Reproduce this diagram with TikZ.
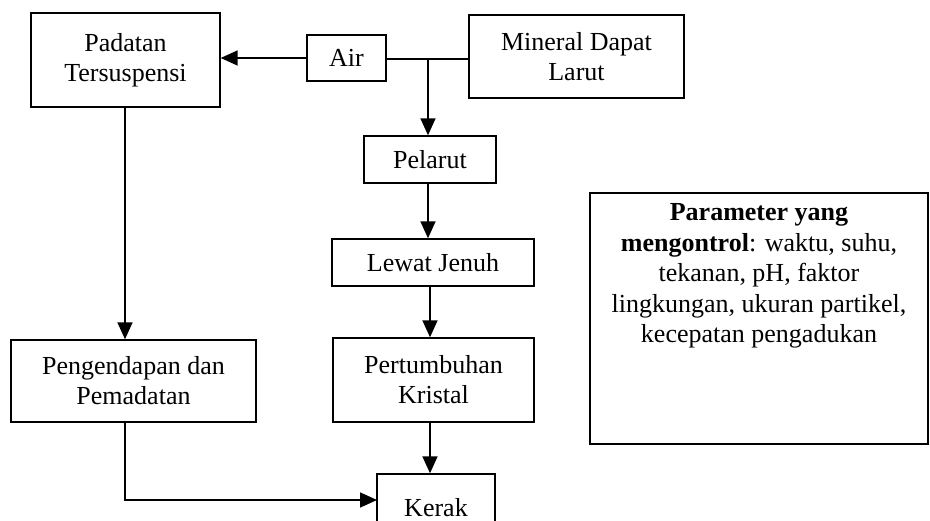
\documentclass[tikz,border=0pt]{standalone}
\usepackage{fontspec}
\setmainfont{Liberation Serif}
\usetikzlibrary{arrows.meta}

\tikzset{
    kotak/.style={draw, line width=1.4pt, align=center, inner sep=0pt},
    panah/.style={line width=1.6pt, -{Triangle[length=17pt,width=15pt]}},
    garis/.style={line width=1.6pt},
}

\begin{document}
\begin{tikzpicture}[x=1pt, y=-1pt, font=\fontsize{26}{30}\selectfont]
        % --- 1. Frame ---
        \useasboundingbox (0,0) rectangle (930,521);

        % --- 2. Top row ---
        \node[kotak, minimum width=189pt, minimum height=94pt] (pad) at (125.5,60) {Padatan\\Tersuspensi};
        \node[kotak, minimum width=79pt, minimum height=46pt] (air) at (346.5,58) {Air};
        \node[kotak, minimum width=215pt, minimum height=83pt] (mineral) at (576.5,56.5) {Mineral Dapat\\Larut};

        % --- 3. Middle column ---
        \node[kotak, minimum width=132pt, minimum height=47pt] (pelarut) at (430,159.5) {Pelarut};
        \node[kotak, minimum width=202pt, minimum height=47pt] (lewat) at (433,262.5) {Lewat Jenuh};
        \node[kotak, minimum width=201pt, minimum height=84pt] (tumbuh) at (433.5,380) {Pertumbuhan\\Kristal};
        \node[kotak, minimum width=118pt, minimum height=68pt] (kerak) at (436,508) {Kerak};

        % --- 4. Left column ---
        \node[kotak, minimum width=245pt, minimum height=82pt] (endap) at (133.5,381) {Pengendapan dan\\Pemadatan};

        % --- 5. Parameter box ---
        \node[kotak, minimum width=338pt, minimum height=251pt] (param) at (759,318.5) {};
        \node[anchor=north, align=center, inner sep=3pt, yshift=-8pt, font=\fontsize{26}{30.5}\selectfont] (paramteks) at (param.north)
            {\textbf{Parameter yang}\\\textbf{mengontrol}: waktu, suhu,\\tekanan, pH, faktor\\lingkungan, ukuran partikel,\\kecepatan pengadukan};

        % --- 6. Connectors ---
        \coordinate (cabang) at (428,59);
        \draw[panah] (air.west) -- (air.west -| pad.east);
        \draw[garis] (air.east |- cabang) -- (cabang -| mineral.west);
        \draw[panah] (cabang) -- (cabang |- pelarut.north);
        \draw[panah] (pelarut.south -| cabang) -- (cabang |- lewat.north);
        \draw[panah] (430,0 |- lewat.south) -- (430,0 |- tumbuh.north);
        \draw[panah] (430,0 |- tumbuh.south) -- (430,0 |- kerak.north);
        \draw[panah] (125,0 |- pad.south) -- (125,0 |- endap.north);
        \draw[panah] (125,0 |- endap.south) |- (377,500);
\end{tikzpicture}
\end{document}
